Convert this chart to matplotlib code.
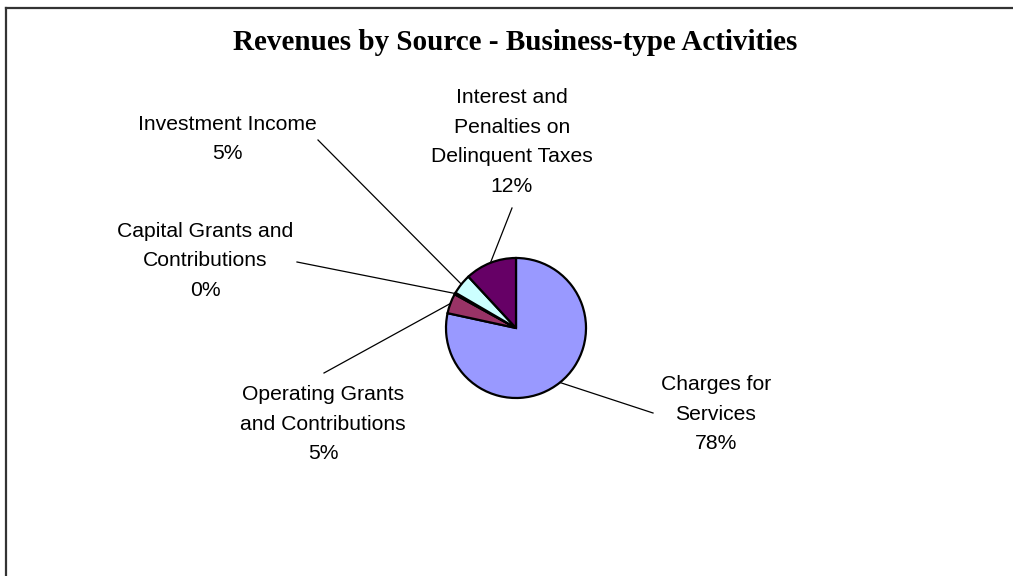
import matplotlib
matplotlib.use("Agg")
import matplotlib.pyplot as plt
from matplotlib.lines import Line2D
import numpy as np

# Revenue sources (share of total, percent)
categories = [
    "Charges for\nServices",
    "Operating Grants\nand Contributions",
    "Capital Grants and\nContributions",
    "Investment Income",
    "Interest and\nPenalties on\nDelinquent Taxes",
]
shares = [78.4, 4.6, 0.4, 4.7, 11.9]
colors = ["#9999FF", "#993366", "#FFFFCC", "#CCFFFF", "#660066"]

title = "Revenues by Source - Business-type Activities"

W, H = 1013, 576
fig = plt.figure(figsize=(W / 100, H / 100), dpi=100)
ax = fig.add_axes([0, 0, 1, 1])

cx, cy, r = 516, H - 328, 70
wedges, _ = ax.pie(
    shares, colors=colors, startangle=90, counterclock=False,
    center=(cx, cy), radius=r, frame=True,
    wedgeprops=dict(edgecolor="black", linewidth=1.6),
)
ax.set_xlim(0, W)
ax.set_ylim(0, H)
ax.axis("off")

# label block centres and leader-line end points (pixel layout, y downward)
label_pos = [(716, 414), (323, 424), (205, 261), (227, 139), (512, 142)]
leader_end = [(653, 413), (324, 373), (297, 262), (318, 140), (512, 208)]

total = sum(shares)
for w, cat, val, (lx, ly), (ex, ey) in zip(wedges, categories, shares,
                                            label_pos, leader_end):
    mid = np.deg2rad((w.theta1 + w.theta2) / 2)
    sx, sy = cx + r * np.cos(mid), cy + r * np.sin(mid)
    ax.plot([sx, ex], [sy, H - ey], color="black", lw=0.9, zorder=1)
    pct = round(100 * val / total)
    ax.text(lx, H - ly, f"{cat}\n{pct}%", ha="center", va="center",
            multialignment="center", fontsize=15.2, family="Liberation Sans",
            linespacing=1.73, color="black")

ax.text(515.5, H - 42, title, ha="center", va="center", fontsize=21,
        family="Liberation Serif", fontweight="bold")

# chart-area frame (top and left edges)
fig.add_artist(Line2D([5.5 / W, 1], [1 - 7.5 / H, 1 - 7.5 / H],
                      color="#333333", lw=1.6, transform=fig.transFigure))
fig.add_artist(Line2D([5.5 / W, 5.5 / W], [0, 1 - 7.5 / H],
                      color="#333333", lw=1.6, transform=fig.transFigure))

fig.savefig("out.png", dpi=100, facecolor="white")
